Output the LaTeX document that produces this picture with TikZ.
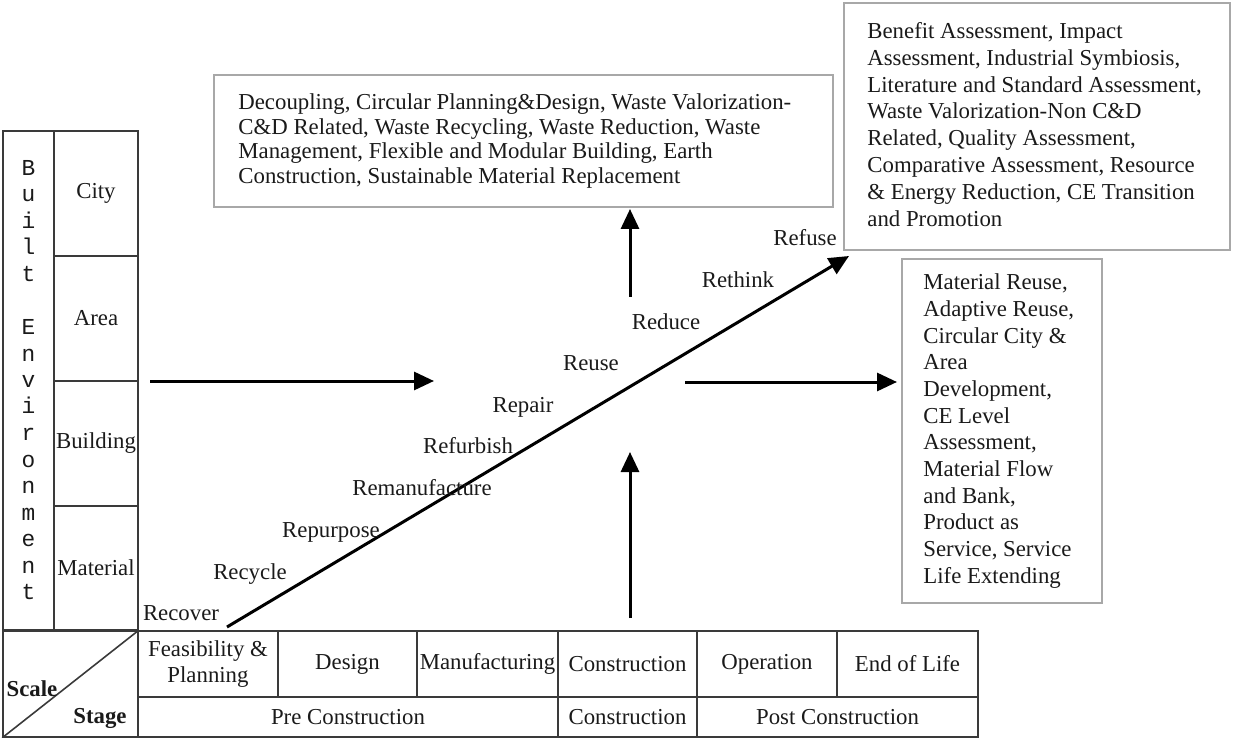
\documentclass[tikz,border=0pt]{standalone}
\usepackage{fontspec}
\setmainfont{Liberation Serif}
\newfontfamily\lettfont{Liberation Mono}
\usetikzlibrary{arrows.meta}
\definecolor{tablecol}{HTML}{3A3A3A}
\definecolor{boxcol}{HTML}{A8A8A8}
\definecolor{inkcol}{HTML}{1A1A1A}
\begin{document}
\begin{tikzpicture}[x=0.5pt,y=-0.5pt,
  txt/.style={font=\fontsize{11.4}{13.4}\selectfont, text=inkcol},
  cell/.style={draw=tablecol, line width=0.8pt, inner sep=0pt, txt, align=center},
  infobox/.style={draw=boxcol, line width=1pt, inner sep=0pt, fill=white},
  infotext/.style={txt, align=left, inner sep=0pt, anchor=west},
  rlabel/.style={txt, inner sep=0pt, text height=1.5ex, text depth=0pt},
  letter/.style={font=\lettfont\fontsize{11.4}{13.4}\selectfont, text=inkcol, inner sep=0pt, anchor=base},
  arr/.style={draw=black, line width=1.5pt, -{Triangle[length=10pt,width=9pt]}}
]
\useasboundingbox (0,0) rectangle (1239,738);

% ---------- left column (scale) ----------
\node[cell, minimum width=25.5pt, minimum height=249.5pt] (becol) at (28.5,380.5) {};
\node[cell, minimum width=42pt, minimum height=62.5pt] (city) at (96,193.5) {City};
\node[cell, minimum width=42pt, minimum height=62.5pt] (area) at (96,318.5) {Area};
\node[cell, minimum width=42pt, minimum height=62.5pt] (building) at (96,443.5) {Building};
\node[cell, minimum width=42pt, minimum height=62pt] (material) at (96,568) {Material};
\foreach \ch [count=\i from 0] in {B,u,i,l,t,{},E,n,v,i,r,o,n,m,e,n,t}
  \node[letter] (let\i) at ({28.5},{175.5+26.5*\i}) {\ch};

% ---------- bottom table (stage) ----------
\node[cell, minimum width=67.5pt, minimum height=53pt] (ss) at (70.5,684) {};
\draw[tablecol, line width=0.8pt] (ss.south west) -- (ss.north east);
\node[txt, font=\fontsize{11.4}{13.4}\selectfont\bfseries, inner sep=0pt] (scale) at (32,689) {Scale};
\node[txt, font=\fontsize{11.4}{13.4}\selectfont\bfseries, inner sep=0pt] (stage) at (100,718) {Stage};

\node[cell, minimum width=70pt, minimum height=33pt] (feas) at (208,664) {Feasibility \&\\Planning};
\node[cell, minimum width=69.5pt, minimum height=33pt] (design) at (347.5,664) {Design};
\node[cell, minimum width=70.5pt, minimum height=33pt] (manuf) at (487.5,664) {Manufacturing};
\node[cell, minimum width=69.5pt, minimum height=33pt] (constr) at (627.5,664) {Construction};
\node[cell, minimum width=70pt, minimum height=33pt] (oper) at (767,664) {Operation};
\node[cell, minimum width=70.5pt, minimum height=33pt] (eol) at (907.5,664) {End of Life};

\node[cell, minimum width=210pt, minimum height=20pt] (pre) at (348,717) {Pre Construction};
\node[cell, minimum width=69.5pt, minimum height=20pt] (con2) at (627.5,717) {Construction};
\node[cell, minimum width=140.5pt, minimum height=20pt] (post) at (837.5,717) {Post Construction};

% ---------- info boxes ----------
\node[infobox, minimum width=309.5pt, minimum height=66pt] (topbox) at (523.5,141) {};
\node[infotext, font=\fontsize{11.4}{12.25}\selectfont] (toptext) at (238,141)
  {Decoupling, Circular Planning\&Design, Waste Valorization-\\
   C\&D Related, Waste Recycling, Waste Reduction, Waste\\
   Management, Flexible and Modular Building, Earth\\
   Construction, Sustainable Material Replacement};

\node[infobox, minimum width=193pt, minimum height=123.5pt] (rtbox) at (1037,126.5) {};
\node[infotext, font=\fontsize{11.4}{13.45}\selectfont] (rttext) at (867,124.5)
  {Benefit Assessment, Impact\\
   Assessment, Industrial Symbiosis,\\
   Literature and Standard Assessment,\\
   Waste Valorization-Non C\&D\\
   Related, Quality Assessment,\\
   Comparative Assessment, Resource\\
   \& Energy Reduction, CE Transition\\
   and Promotion};

\node[infobox, minimum width=100pt, minimum height=172pt] (rmbox) at (1002,431) {};
\node[infotext, font=\fontsize{11.4}{13.35}\selectfont] (rmtext) at (923,431)
  {Material Reuse,\\
   Adaptive Reuse,\\
   Circular City \&\\
   Area\\
   Development,\\
   CE Level\\
   Assessment,\\
   Material Flow\\
   and Bank,\\
   Product as\\
   Service, Service\\
   Life Extending};

% ---------- arrows ----------
\coordinate (hlA) at (150,381);
\coordinate (hlB) at (434,381);
\coordinate (hrA) at (685,382);
\coordinate (hrB) at (897,382);
\coordinate (vbA) at (630,618);
\coordinate (vbB) at (630,452);
\coordinate (vtA) at (630,297);
\coordinate (vtB) at (630,209);
\coordinate (dA) at (227,627);
\coordinate (dB) at (849,256);
\draw[arr] (hlA) -- (hlB);
\draw[arr] (hrA) -- (hrB);
\draw[arr] (vbA) -- (vbB);
\draw[arr] (vtA) -- (vtB);
\draw[arr] (dA) -- (dB);

% ---------- R labels ----------
\node[rlabel] (recover) at (181,614) {Recover};
\node[rlabel] (recycle) at (250,573) {Recycle};
\node[rlabel] (repurpose) at (331,531) {Repurpose};
\node[rlabel] (reman) at (422,489) {Remanufacture};
\node[rlabel] (refurb) at (468,447) {Refurbish};
\node[rlabel] (repair) at (523,406) {Repair};
\node[rlabel] (reuse) at (591,364) {Reuse};
\node[rlabel] (reduce) at (666,323) {Reduce};
\node[rlabel] (rethink) at (738,281) {Rethink};
\node[rlabel] (refuse) at (805,239) {Refuse};
\end{tikzpicture}
\end{document}
